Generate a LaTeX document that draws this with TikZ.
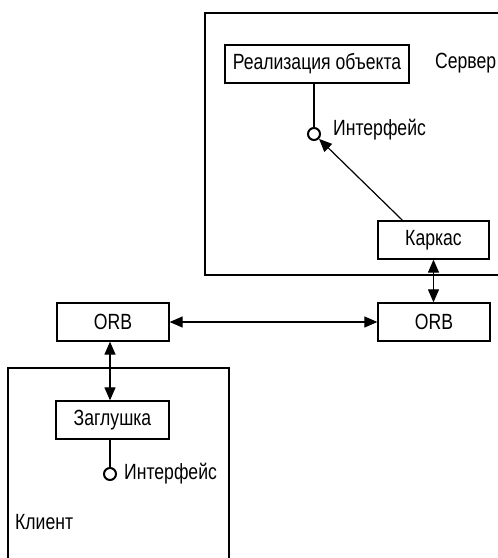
\documentclass[tikz,border=0pt]{standalone}
\usepackage{fontspec}
\setmainfont[FakeStretch=0.8]{Liberation Sans}
\usetikzlibrary{arrows.meta,calc}
\begin{document}
\begin{tikzpicture}[x=1pt,y=-1pt,
  box/.style={draw,line width=1.3pt,minimum height=38pt,inner sep=0pt,font=\fontsize{22}{24}\selectfont},
  lbl/.style={anchor=west,inner sep=0pt,font=\fontsize{22}{24}\selectfont},
  conn/.style={line width=1.2pt},
  tip/.style={-{Triangle[length=13pt,width=11pt]}},
  dtip/.style={{Triangle[length=13pt,width=11pt]}-{Triangle[length=13pt,width=11pt]}},
  ball/.style={circle,draw,line width=2pt,minimum size=12pt,inner sep=0pt}]
\useasboundingbox (0,0) rectangle (498,558);
% containers
\draw[line width=1.3pt] (500,13) -- (205,13) -- (205,275) -- (500,275);
\draw[line width=1.3pt] (8,560) -- (8,368) -- (229,368) -- (229,560);
% nodes
\node[box,minimum width=184pt] (impl) at (317,64) {Реализация объекта};
\node[lbl] (server) at (435,63) {Сервер};
\node[ball] (c1) at (314,134) {};
\node[lbl] (if1) at (333,130) {Интерфейс};
\node[box,minimum width=111pt] (karkas) at (433.5,240) {Каркас};
\node[box,minimum width=112pt] (orbL) at (113,322) {ORB};
\node[box,minimum width=112pt] (orbR) at (434,322) {ORB};
\node[box,minimum width=113pt] (zagl) at (112.5,420) {Заглушка};
\node[ball] (c2) at (110,474) {};
\node[lbl] (if2) at (124,474) {Интерфейс};
\node[lbl] (client) at (15,522) {Клиент};
% connectors
\draw[conn] (c1.north) -- (c1.north |- impl.south);
\coordinate (ks) at ($(karkas.north)+(-31,0)$);
\draw[conn,tip] (ks) -- (c1);
\draw[conn,dtip] (karkas.south) -- (orbR.north -| karkas.south);
\draw[conn,dtip] (orbL.east) -- (orbR.west);
\draw[conn,dtip] (orbL.south -| c2.north) -- (zagl.north -| c2.north);
\draw[conn] (c2.north) -- (c2.north |- zagl.south);
\end{tikzpicture}
\end{document}
